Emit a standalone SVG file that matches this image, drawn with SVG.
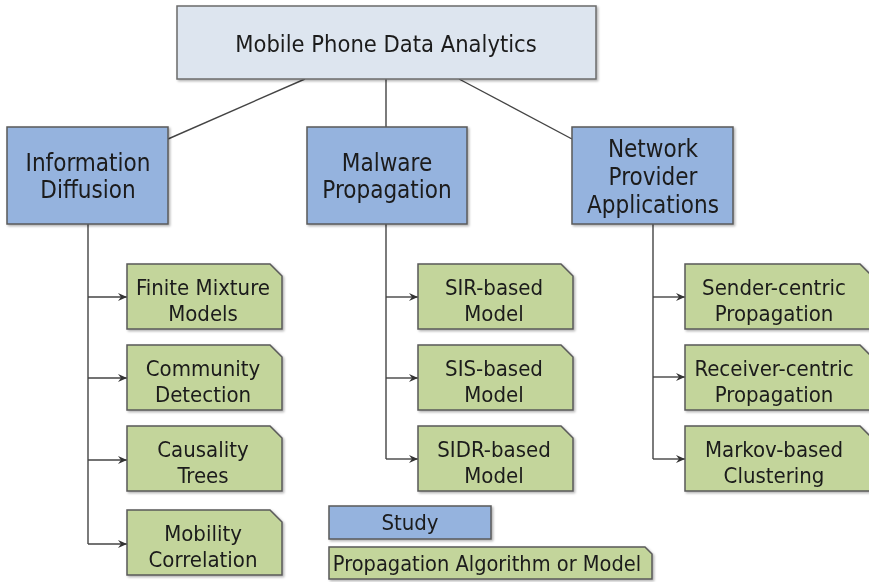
<svg xmlns="http://www.w3.org/2000/svg" width="869" height="582" viewBox="0 0 869 582">
  <style>
    .root { fill: #dde5ef; stroke: #6b6b6b; stroke-width: 1.5; }
    .study { fill: #95b3de; stroke: #5a5a5a; stroke-width: 1.5; }
    .algo { fill: #c3d59b; stroke: #5a5a5a; stroke-width: 1.5; }
    .conn { fill: none; stroke: #444; stroke-width: 1.4; }
    text { font-family: "DejaVu Sans Condensed", "DejaVu Sans", sans-serif; font-stretch: condensed; fill: #1a1a1a; text-anchor: middle; }
    .t1 { font-size: 23.5px; }
    .t2 { font-size: 24px; }
    .t3 { font-size: 22px; }
    .t4 { font-size: 22px; }
    .t5 { font-size: 21.6px; }
  </style>
  <defs>
    <marker id="arr" viewBox="0 0 10 10" refX="9" refY="5" markerWidth="10" markerHeight="10" markerUnits="userSpaceOnUse" orient="auto">
      <path d="M0,1 L9,5 L0,9 L3,5 Z" fill="#333"/>
    </marker>
    <filter id="sh" x="-5%" y="-5%" width="115%" height="120%">
      <feDropShadow dx="1.5" dy="1.5" stdDeviation="1" flood-color="#000" flood-opacity="0.3"/>
    </filter>
  </defs>

  <!-- connectors -->
  <g id="connectors">
    <line class="conn" x1="305" y1="79" x2="168" y2="139"/>
    <line class="conn" x1="386" y1="79" x2="386" y2="127"/>
    <line class="conn" x1="459" y1="79" x2="572" y2="139"/>

    <path class="conn" d="M88,224 V544"/>
    <path class="conn" d="M88,297 H127" marker-end="url(#arr)"/>
    <path class="conn" d="M88,378 H127" marker-end="url(#arr)"/>
    <path class="conn" d="M88,460 H127" marker-end="url(#arr)"/>
    <path class="conn" d="M88,544 H127" marker-end="url(#arr)"/>

    <path class="conn" d="M386,224 V459"/>
    <path class="conn" d="M386,297 H418" marker-end="url(#arr)"/>
    <path class="conn" d="M386,378 H418" marker-end="url(#arr)"/>
    <path class="conn" d="M386,459 H418" marker-end="url(#arr)"/>

    <path class="conn" d="M653,224 V459"/>
    <path class="conn" d="M653,297 H685" marker-end="url(#arr)"/>
    <path class="conn" d="M653,377 H685" marker-end="url(#arr)"/>
    <path class="conn" d="M653,459 H685" marker-end="url(#arr)"/>
  </g>

  <!-- root -->
  <g id="root" filter="url(#sh)">
    <rect class="root" x="177" y="6" width="419" height="73"/>
    <text class="t1" x="386" y="52">Mobile Phone Data Analytics</text>
  </g>

  <!-- studies -->
  <g id="information-diffusion" filter="url(#sh)">
    <rect class="study" x="7" y="127" width="161" height="97"/>
    <text class="t2" x="88" y="171">Information</text>
    <text class="t2" x="88" y="198">Diffusion</text>
  </g>
  <g id="malware-propagation" filter="url(#sh)">
    <rect class="study" x="307" y="127" width="160" height="97"/>
    <text class="t2" x="387" y="171">Malware</text>
    <text class="t2" x="387" y="198">Propagation</text>
  </g>
  <g id="network-provider" filter="url(#sh)">
    <rect class="study" x="572" y="127" width="161" height="97"/>
    <text class="t2" x="653" y="157">Network</text>
    <text class="t2" x="653" y="185">Provider</text>
    <text class="t2" x="653" y="213">Applications</text>
  </g>

  <!-- algorithms / models: Information Diffusion -->
  <g id="finite-mixture" filter="url(#sh)">
    <path class="algo" d="M127,264 H270 L282,276 V329 H127 Z"/>
    <text class="t3" x="203" y="295">Finite Mixture</text>
    <text class="t3" x="203" y="321">Models</text>
  </g>
  <g id="community-detection" filter="url(#sh)">
    <path class="algo" d="M127,345 H270 L282,357 V410 H127 Z"/>
    <text class="t3" x="203" y="376">Community</text>
    <text class="t3" x="203" y="402">Detection</text>
  </g>
  <g id="causality-trees" filter="url(#sh)">
    <path class="algo" d="M127,426 H270 L282,438 V491 H127 Z"/>
    <text class="t3" x="203" y="457">Causality</text>
    <text class="t3" x="203" y="483">Trees</text>
  </g>
  <g id="mobility-correlation" filter="url(#sh)">
    <path class="algo" d="M127,510 H270 L282,522 V575 H127 Z"/>
    <text class="t3" x="203" y="541">Mobility</text>
    <text class="t3" x="203" y="567">Correlation</text>
  </g>

  <!-- algorithms / models: Malware Propagation -->
  <g id="sir-model" filter="url(#sh)">
    <path class="algo" d="M418,264 H561 L573,276 V329 H418 Z"/>
    <text class="t3" x="494" y="295">SIR-based</text>
    <text class="t3" x="494" y="321">Model</text>
  </g>
  <g id="sis-model" filter="url(#sh)">
    <path class="algo" d="M418,345 H561 L573,357 V410 H418 Z"/>
    <text class="t3" x="494" y="376">SIS-based</text>
    <text class="t3" x="494" y="402">Model</text>
  </g>
  <g id="sidr-model" filter="url(#sh)">
    <path class="algo" d="M418,426 H561 L573,438 V491 H418 Z"/>
    <text class="t3" x="494" y="457">SIDR-based</text>
    <text class="t3" x="494" y="483">Model</text>
  </g>

  <!-- algorithms / models: Network Provider Applications -->
  <g id="sender-centric" filter="url(#sh)">
    <path class="algo" d="M685,264 H860 L872,276 V329 H685 Z"/>
    <text class="t3" x="774" y="295">Sender-centric</text>
    <text class="t3" x="774" y="321">Propagation</text>
  </g>
  <g id="receiver-centric" filter="url(#sh)">
    <path class="algo" d="M685,345 H860 L872,357 V410 H685 Z"/>
    <text class="t3" x="774" y="376">Receiver-centric</text>
    <text class="t3" x="774" y="402">Propagation</text>
  </g>
  <g id="markov-clustering" filter="url(#sh)">
    <path class="algo" d="M685,426 H860 L872,438 V491 H685 Z"/>
    <text class="t3" x="774" y="457">Markov-based</text>
    <text class="t3" x="774" y="483">Clustering</text>
  </g>

  <!-- legend -->
  <g id="legend-study" filter="url(#sh)">
    <rect class="study" x="329" y="506" width="162" height="33"/>
    <text class="t4" x="410" y="530">Study</text>
  </g>
  <g id="legend-algorithm" filter="url(#sh)">
    <path class="algo" d="M329,547 H645 L652,554 V579 H329 Z"/>
    <text class="t5" x="487" y="571">Propagation Algorithm or Model</text>
  </g>
</svg>
